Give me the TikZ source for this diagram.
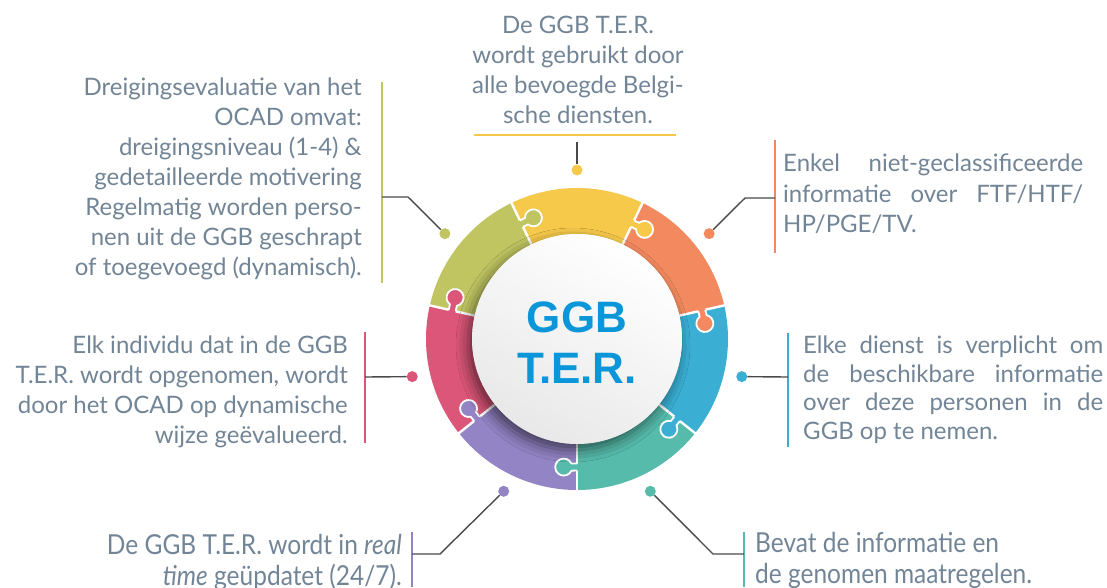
\documentclass[tikz,border=0pt]{standalone}
\usepackage{fontspec}
\setmainfont{Lato}
\newfontfamily\titlefont{Liberation Sans}
\newfontfamily\tallfont{Lato}[FakeStretch=0.89]
\usetikzlibrary{shadows.blur}
\definecolor{cgreen}{HTML}{C0C461}
\definecolor{cyellow}{HTML}{F6C94A}
\definecolor{corange}{HTML}{F2895F}
\definecolor{cblue}{HTML}{3AAFD3}
\definecolor{cteal}{HTML}{56BBAA}
\definecolor{cpurple}{HTML}{9384C5}
\definecolor{cpink}{HTML}{DB5678}
\definecolor{txtc}{HTML}{728596}
\definecolor{ttlc}{HTML}{0A96D8}
\definecolor{connc}{HTML}{4A4A4A}
\newcommand{\jl}[2]{\makebox[#1][s]{\spaceskip=0pt\xspaceskip=0pt #2}}
\begin{document}
\begin{tikzpicture}[x=1pt,y=-1pt,
  txt/.style={text=txtc, inner sep=0pt, font=\fontsize{24}{30}\selectfont},
  bar/.style={line width=2.6pt},
  link/.style={draw=connc, line width=1.4pt},
  dot/.style={circle, inner sep=0pt, minimum size=11pt},
]
\fill[white] (0,0) rectangle (1107,587);
\useasboundingbox (0,0) rectangle (1107,587);

% ring
\begin{scope}[shift={(577,339)}, y=1pt]
  \foreach \c [count=\i from 0] in {cteal,cblue,corange,cyellow,cgreen,cpink,cpurple}{
    \pgfmathsetmacro\a{-90+\i*51.4286}
    \pgfmathsetmacro\b{\a+51.4286}
    \fill[\c] (\a:151) arc[start angle=\a, end angle=\b, radius=151] -- (\b:105) arc[start angle=\b, end angle=\a, radius=105] -- cycle;
  }
  \foreach \c [count=\i from 0] in {cteal,cblue,corange,cyellow,cgreen,cpink,cpurple}{
    \pgfmathsetmacro\a{-90+\i*51.4286}
    \draw[white, line width=2.4pt] (\a:104) -- (\a:152);
    \begin{scope}[shift={(\a:128)}, rotate=\a, yscale=-1]
      \fill[\c] (-3.5,-2.5) -- (-3.5,5.6) arc[start angle=245, end angle=-65, radius=8.5] -- (3.5,-2.5) -- cycle;
      \draw[white, line width=1.8pt] (-3.5,0) -- (-3.5,5.6) arc[start angle=245, end angle=-65, radius=8.5] -- (3.5,0);
    \end{scope}
  }
  \path[blur shadow={shadow xshift=-4pt, shadow yshift=-6pt, shadow blur radius=12pt, shadow opacity=55}] (0,0) circle[radius=105];
  \shade[top color=white, bottom color=black!9, shading angle=-30] (0,0) circle[radius=105];
  \node[font=\titlefont\bfseries\fontsize{44}{51}\selectfont, text=ttlc, align=center] (title) at (0,-3.5) {GGB\\T.E.R.};
  \node[dot, fill=cyellow] (d1) at (90:169) {};
  \node[dot, fill=cgreen]  (d2) at (141.43:169) {};
  \node[dot, fill=corange] (d3) at (38.57:169) {};
  \node[dot, fill=cblue]   (d4) at (-12.86:169) {};
  \node[dot, fill=cpink]   (d5) at (192.86:169) {};
  \node[dot, fill=cpurple] (d6) at (244.29:169) {};
  \node[dot, fill=cteal]   (d7) at (-64.29:169) {};
\end{scope}

% texts
\node[txt, anchor=north, align=flush center, text width=260pt] (t1) at (578,12.6)
  {\strut De GGB T.E.R.\\wordt gebruikt door\\alle bevoegde Belgi-\\sche diensten.};
\node[txt, anchor=north east, align=flush right] (t2) at (362,74.6)
  {\strut Dreigingsevaluatie van het\\OCAD omvat:\\dreigingsniveau (1-4) \&\\gedetailleerde motivering\\Regelmatig worden perso-\\nen uit de GGB geschrapt\\of toegevoegd (dynamisch).};
\node[txt, anchor=north west, align=flush left, text width=300pt, font=\fontsize{24}{30.5}\selectfont] (t3) at (783,150.3)
  {\strut\jl{300pt}{Enkel niet-geclassificeerde}\\\jl{300pt}{informatie over FTF/HTF/}\\HP/PGE/TV.};
\node[txt, anchor=north west, align=flush left, text width=300pt, font=\fontsize{24}{28.5}\selectfont] (t4) at (803,333.7)
  {\strut\jl{300pt}{Elke dienst is verplicht om}\\\jl{300pt}{de beschikbare informatie}\\\jl{300pt}{over deze personen in de}\\GGB op te nemen.};
\node[txt, anchor=north east, align=flush right] (t5) at (348,332.6)
  {\strut Elk individu dat in de GGB\\T.E.R. wordt opgenomen, wordt\\door het OCAD op dynamische\\wijze geëvalueerd.};
\node[txt, anchor=north east, align=flush right, font=\tallfont\fontsize{27.5}{31}\selectfont] (t6) at (402,532.3)
  {\strut De GGB T.E.R. wordt in \emph{real}\\\emph{time} geüpdatet (24/7).};
\node[txt, anchor=north west, align=flush left, font=\tallfont\fontsize{27.5}{31}\selectfont] (t7) at (755,530.3)
  {\strut Bevat de informatie en\\de genomen maatregelen.};

% bars
\draw[bar, draw=cyellow] (474,135) -- (676,135);
\draw[bar, draw=cgreen]  (382,82) -- (382,283);
\draw[bar, draw=corange] (775,140) -- (775,253);
\draw[bar, draw=cblue]   (788,333) -- (788,447);
\draw[bar, draw=cpink]   (365,332) -- (365,443);
\draw[bar, draw=cpurple] (412,532) -- (412,587);
\draw[bar, draw=cteal]   (744,532) -- (744,587);

% connectors
\coordinate (k1) at (577,142);
\coordinate (k2) at (382,197); \coordinate (e2) at (408,197);
\coordinate (k3) at (775,198); \coordinate (e3) at (745,198);
\coordinate (k4) at (788,377);
\coordinate (k5) at (365,377);
\coordinate (k6) at (412,554); \coordinate (e6) at (440,554);
\coordinate (k7) at (744,554); \coordinate (e7) at (713,554);
\draw[link] (k1) -- (d1);
\draw[link] (k2) -- (e2) -- (d2);
\draw[link] (k3) -- (e3) -- (d3);
\draw[link] (k4) -- (d4);
\draw[link] (k5) -- (d5);
\draw[link] (k6) -- (e6) -- (d6);
\draw[link] (k7) -- (e7) -- (d7);
\end{tikzpicture}
\end{document}
